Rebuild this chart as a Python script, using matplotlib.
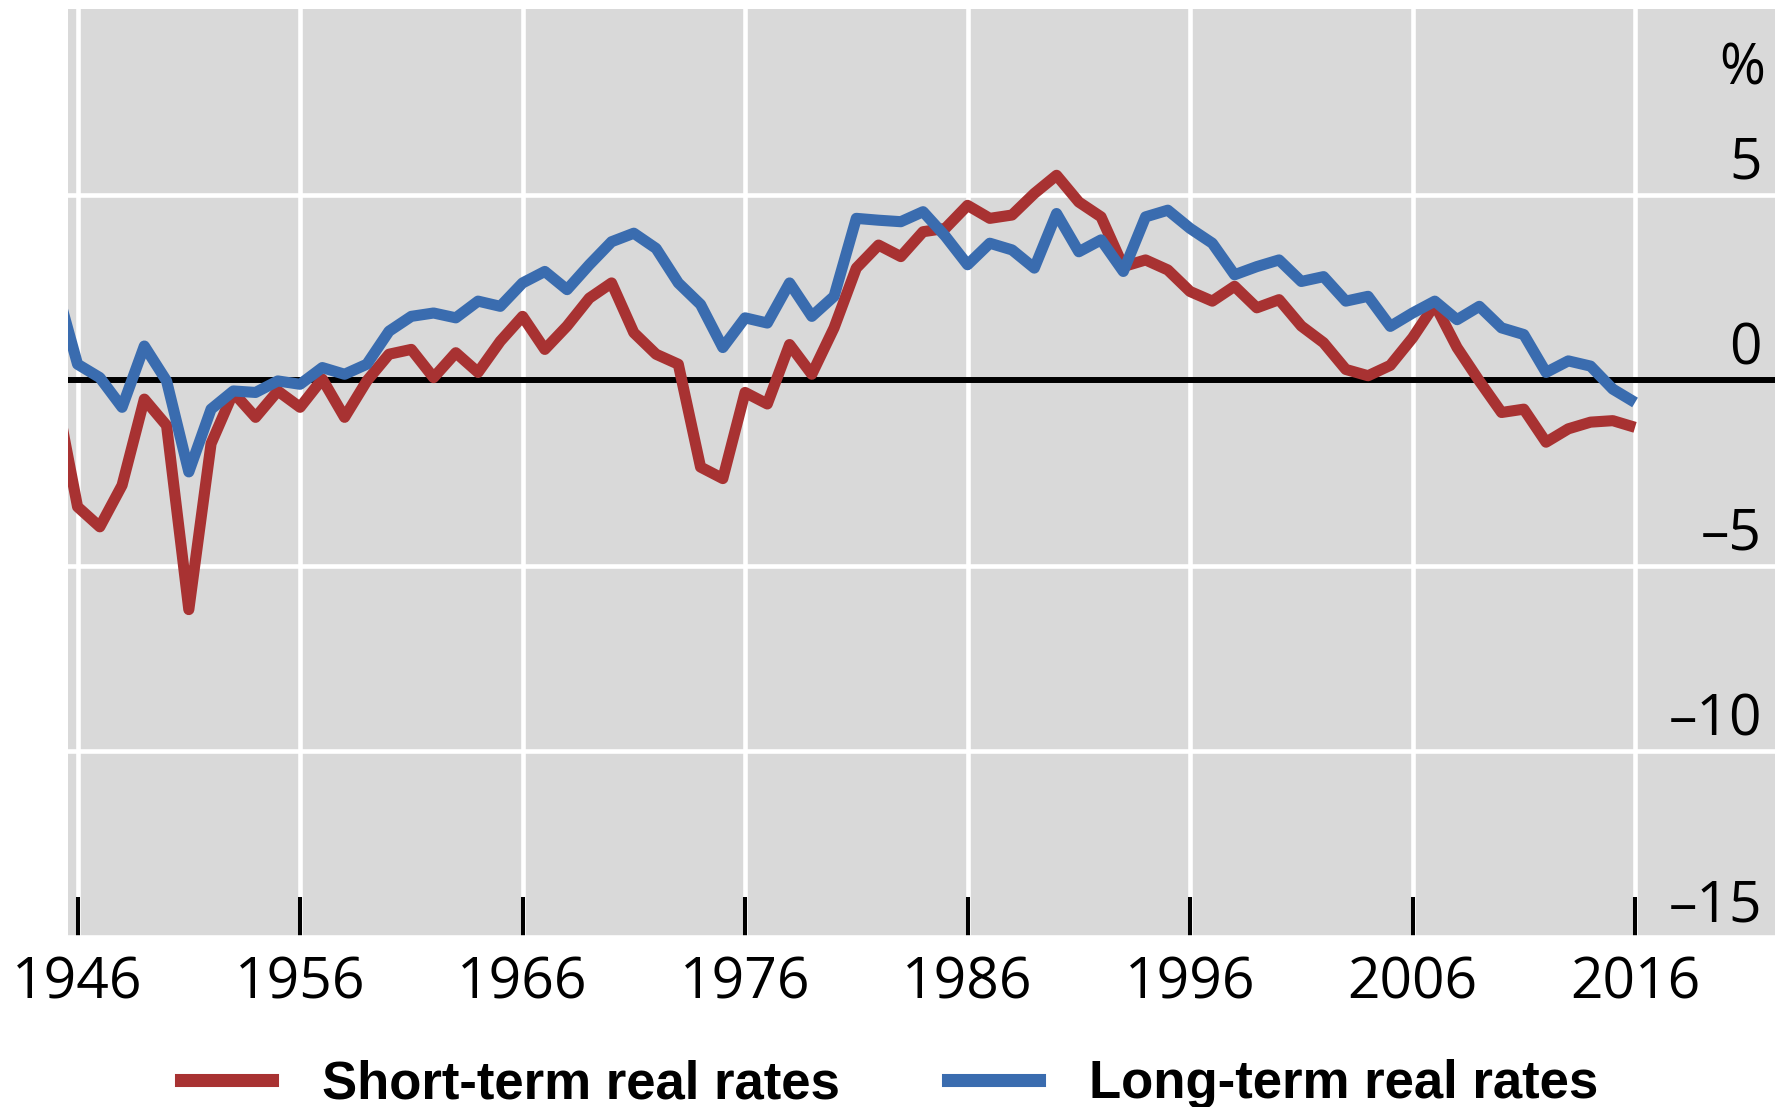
import matplotlib
matplotlib.use("Agg")
import matplotlib.pyplot as plt
import matplotlib.transforms as mtransforms
from matplotlib.lines import Line2D

# ---------------- data ----------------
years = list(range(1945, 2017))

short_term = [
    -0.30, -3.41, -3.95, -2.83, -0.51, -1.22, -6.18, -1.71, -0.33, -1.00,  # 1945-1954
    -0.29, -0.73, 0.03, -1.00, -0.02, 0.70, 0.83, 0.07, 0.74, 0.21,       # 1955-1964
    1.05, 1.72, 0.83, 1.46, 2.21, 2.62, 1.28, 0.70, 0.43, -2.34,          # 1965-1974
    -2.65, -0.33, -0.64, 0.96, 0.16, 1.41, 3.02, 3.64, 3.33, 4.00,        # 1975-1984
    4.09, 4.71, 4.36, 4.45, 5.03, 5.52, 4.80, 4.40, 3.06, 3.24,           # 1985-1994
    2.97, 2.39, 2.13, 2.53, 1.95, 2.17, 1.46, 1.01, 0.29, 0.12,           # 1995-2004
    0.40, 1.14, 2.04, 0.88, -0.02, -0.87, -0.78, -1.67, -1.31, -1.13,     # 2005-2014
    -1.09, -1.27,                                                          # 2015-2016
]

long_term = [
    2.60, 0.43, 0.07, -0.73, 0.92, -0.02, -2.47, -0.78, -0.29, -0.33,     # 1945-1954
    -0.02, -0.11, 0.34, 0.16, 0.43, 1.32, 1.72, 1.81, 1.68, 2.13,         # 1955-1964
    1.99, 2.62, 2.93, 2.44, 3.11, 3.73, 3.96, 3.55, 2.62, 2.04,           # 1965-1974
    0.88, 1.68, 1.54, 2.62, 1.72, 2.26, 4.36, 4.31, 4.27, 4.54,           # 1975-1984
    3.88, 3.11, 3.69, 3.51, 3.02, 4.49, 3.46, 3.78, 2.93, 4.40,           # 1985-1994
    4.58, 4.09, 3.69, 2.84, 3.06, 3.24, 2.66, 2.79, 2.13, 2.26,           # 1995-2004
    1.45, 1.81, 2.13, 1.63, 1.99, 1.41, 1.23, 0.21, 0.52, 0.38,           # 2005-2014
    -0.24, -0.60,                                                          # 2015-2016
]

series_labels = ["Short-term real rates", "Long-term real rates"]
x_ticks = [1946, 1956, 1966, 1976, 1986, 1996, 2006, 2016]
x_tick_labels = ["1946", "1956", "1966", "1976", "1986", "1996", "2006", "2016"]
y_ticks = [-15, -10, -5, 0, 5]
y_tick_labels = ["–15", "–10", "–5", "0", "5"]
unit_label = "%"

# ---------------- style ----------------
RED = "#A83232"
BLUE = "#3A6CAF"
BG = "#D9D9D9"
TICK_FONT = "Open Sans"
LEG_FONT = "Liberation Sans"

W, H, DPI = 1775, 1107, 100
fig = plt.figure(figsize=(W / DPI, H / DPI), dpi=DPI)
fig.patch.set_facecolor("white")

ax_left, ax_right, ax_top, ax_bottom = 68, 1775, 9, 937
ax = fig.add_axes([ax_left / W, 1 - ax_bottom / H,
                   (ax_right - ax_left) / W, (ax_bottom - ax_top) / H])
ax.set_facecolor(BG)

ax.set_xlim(1945.57, 2022.29)
ax.set_ylim(-15, 10)

for s in ax.spines.values():
    s.set_visible(False)

# grid
ax.set_xticks(x_ticks)
ax.set_xticklabels(x_tick_labels, fontfamily=TICK_FONT, fontsize=41)
ax.set_yticks(y_ticks)
ax.set_yticklabels([])
ax.grid(True, color="white", linewidth=3.3, zorder=0)
ax.set_axisbelow(True)
ax.tick_params(axis="y", length=0)
ax.tick_params(axis="x", direction="in", length=29, width=2.9,
               color="black", pad=13, labelcolor="black")

# zero line
ax.axhline(0, color="black", linewidth=4.3, zorder=2)

# series
ax.plot(years, short_term, color=RED, linewidth=8.0, zorder=3,
        solid_joinstyle="round", solid_capstyle="butt", label=series_labels[0])
ax.plot(years, long_term, color=BLUE, linewidth=8.0, zorder=3,
        solid_joinstyle="round", solid_capstyle="butt", label=series_labels[1])

# y tick labels inside, on the right, sitting just above their gridlines
blend = mtransforms.blended_transform_factory(ax.transAxes, ax.transData)
off = mtransforms.ScaledTranslation(-13 / DPI, 16 / DPI, fig.dpi_scale_trans)
for v, lab in zip(y_ticks, y_tick_labels):
    ax.text(1.0, v, lab, transform=blend + off, ha="right", va="baseline",
            fontfamily=TICK_FONT, fontsize=41, color="black", zorder=4)

off_pct = mtransforms.ScaledTranslation(-10 / DPI, 0, fig.dpi_scale_trans)
ax.text(1.0, 7.96, unit_label, transform=blend + off_pct, ha="right",
        va="baseline", fontfamily=TICK_FONT, fontsize=40, color="black", zorder=4)

# legend
handles = [Line2D([0], [0], color=RED, linewidth=9.4),
           Line2D([0], [0], color=BLUE, linewidth=9.4)]
leg = fig.legend(handles, series_labels, loc="center",
                 bbox_to_anchor=(0.5014, 0.0205), ncol=2, frameon=False,
                 prop={"family": LEG_FONT, "weight": "bold", "size": 38},
                 handlelength=1.72, handletextpad=0.95, columnspacing=2.05,
                 borderpad=0, borderaxespad=0)

fig.savefig("out.png", dpi=DPI)
